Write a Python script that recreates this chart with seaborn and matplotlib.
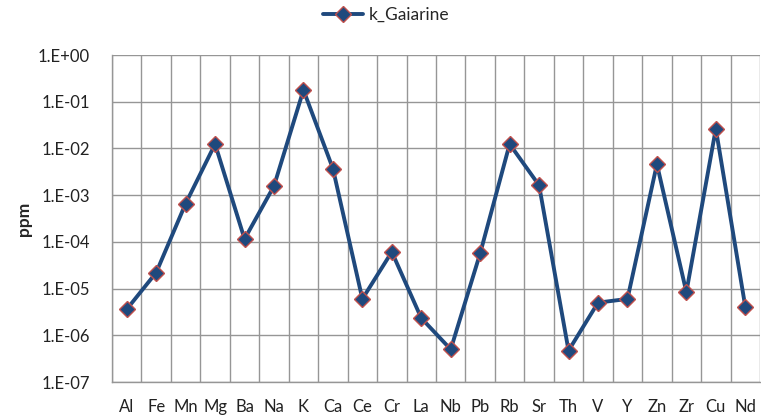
import numpy as np
import pandas as pd
import matplotlib
matplotlib.use("Agg")
import matplotlib.pyplot as plt
from matplotlib.ticker import FixedLocator, FixedFormatter
import seaborn as sns

elements = ['Al', 'Fe', 'Mn', 'Mg', 'Ba', 'Na', 'K', 'Ca', 'Ce', 'Cr', 'La',
            'Nb', 'Pb', 'Rb', 'Sr', 'Th', 'V', 'Y', 'Zn', 'Zr', 'Cu', 'Nd']
k_gaiarine = [3.6e-6, 2.2e-5, 6.6e-4, 1.24e-2, 1.15e-4, 1.57e-3, 0.178, 3.7e-3,
              6.0e-6, 6.1e-5, 2.33e-6, 5.0e-7, 5.7e-5, 1.24e-2, 1.62e-3, 4.7e-7,
              5.0e-6, 6.0e-6, 4.6e-3, 8.4e-6, 2.64e-2, 4.1e-6]
decades = [1e-7, 1e-6, 1e-5, 1e-4, 1e-3, 1e-2, 1e-1, 1e0]
decade_labels = ['1.E-07', '1.E-06', '1.E-05', '1.E-04', '1.E-03', '1.E-02', '1.E-01', '1.E+00']

df = pd.DataFrame({'element': elements, 'ppm': k_gaiarine})

sns.set_style('white')
plt.rcParams['font.family'] = ['Lato', 'DejaVu Sans']

fig = plt.figure(figsize=(7.61, 4.15), dpi=100)
ax = fig.add_axes([112 / 761, 1 - 382 / 415, 648 / 761, 327 / 415])

sns.lineplot(data=df, x='element', y='ppm', sort=False, ax=ax,
             color='#1F497D', linewidth=2.8, marker='D', markersize=8.5,
             markerfacecolor='#1F497D', markeredgecolor='#C0504D',
             markeredgewidth=1.0, label='k_Gaiarine')

ax.set_yscale('log')
ax.set_ylim(1e-7, 1e0)
ax.set_xlim(-0.5, len(elements) - 0.5)

ax.yaxis.set_major_locator(FixedLocator(decades))
ax.yaxis.set_major_formatter(FixedFormatter(decade_labels))
ax.yaxis.set_minor_locator(FixedLocator([]))
ax.set_xticks(range(len(elements)))
ax.set_xticklabels(elements)
ax.set_xticks(np.arange(-0.5, len(elements)), minor=True)

ax.grid(True, which='major', axis='y', color='#969696', linewidth=1.0)
ax.grid(True, which='minor', axis='x', color='#969696', linewidth=1.0)
ax.grid(False, which='major', axis='x')
ax.set_axisbelow(True)

for side in ['top', 'right']:
    ax.spines[side].set_visible(False)
for side in ['left', 'bottom']:
    ax.spines[side].set_color('#969696')
    ax.spines[side].set_linewidth(1.0)

ax.tick_params(axis='both', which='both', length=0, labelsize=12, colors='#222222')
ax.tick_params(axis='y', pad=16)
ax.tick_params(axis='x', pad=12)

ax.set_xlabel('')
ax.set_ylabel('ppm', fontsize=12.5, fontweight='bold', labelpad=4)

ax.legend(loc='center', bbox_to_anchor=(386 / 761, 1 - 15 / 415),
          bbox_transform=fig.transFigure, frameon=False, fontsize=12.5,
          handlelength=2.3, handletextpad=0.3)

fig.savefig('out.png', dpi=100)
